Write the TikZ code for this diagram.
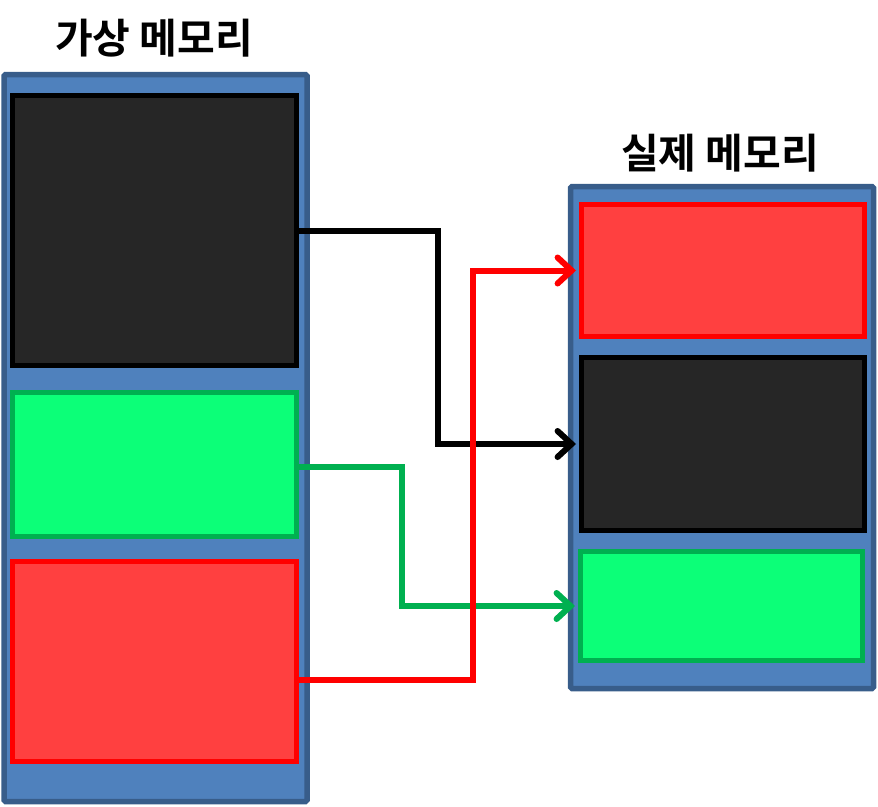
\documentclass[tikz,border=0pt]{standalone}
\usepackage{fontspec}
\newfontfamily\kr{Noto Sans CJK KR}[BoldFont={* Bold}]
\usetikzlibrary{arrows.meta}
\definecolor{contfill}{HTML}{4F81BD}
\definecolor{contline}{HTML}{385D8A}
\definecolor{blkfill}{HTML}{262626}
\definecolor{grnfill}{HTML}{0CFF78}
\definecolor{grnline}{HTML}{00B050}
\definecolor{redfill}{HTML}{FF4040}
\definecolor{redline}{HTML}{FF0000}
\begin{document}
\begin{tikzpicture}[x=1pt,y=-1pt,
  container/.style={draw=contline,fill=contfill,line width=5.5pt,rounded corners=1.5pt,inner sep=0pt},
  blk/.style={draw=black,fill=blkfill,line width=5pt,inner sep=0pt},
  grn/.style={draw=grnline,fill=grnfill,line width=5pt,inner sep=0pt},
  rd/.style={draw=redline,fill=redfill,line width=5pt,inner sep=0pt},
  title/.style={font=\kr\bfseries\fontsize{41}{48}\selectfont,inner sep=0pt},
  conn/.style={line width=6pt,line cap=round,line join=miter,-{Straight Barb[length=14pt,width=26pt,line cap=round]}}]
\useasboundingbox (0,0) rectangle (878,806);
% containers
\node[container,minimum width=303pt,minimum height=727pt] (lc) at (155.5,438) {};
\node[container,minimum width=303pt,minimum height=502pt] (rc) at (722,437.5) {};
% titles
\node[title] (lt) at (154,38) {가상 메모리};
\node[title] (rt) at (720,153) {실제 메모리};
% left boxes
\node[blk,minimum width=284pt,minimum height=270pt] (lb) at (154.5,230.5) {};
\node[grn,minimum width=284pt,minimum height=144pt] (lg) at (154.5,464.5) {};
\node[rd,minimum width=284pt,minimum height=200pt] (lr) at (154.5,661.5) {};
% right boxes
\node[rd,minimum width=283pt,minimum height=132pt] (rr) at (723,270.5) {};
\node[blk,minimum width=283pt,minimum height=173pt] (rb) at (723,444) {};
\node[grn,minimum width=282pt,minimum height=109pt] (rg) at (721.5,606) {};
% connector bends
\coordinate (b1) at (438,0);
\coordinate (g1) at (402,0);
\coordinate (r1) at (473,0);
% connectors
\draw[conn,black] (lb.east) -- (lb.east -| b1) -- (rb.west -| b1) -- ([xshift=-3pt]rb.west);
\draw[conn,grnline] ([yshift=-2.5pt]lg.east) -- ([yshift=-2.5pt]lg.east -| g1) -- (rg.west -| g1) -- ([xshift=-3pt]rg.west);
\draw[conn,redline] ([yshift=-18.5pt]lr.east) -- ([yshift=-18.5pt]lr.east -| r1) -- (rr.west -| r1) -- ([xshift=-3pt]rr.west);
\end{tikzpicture}
\end{document}
